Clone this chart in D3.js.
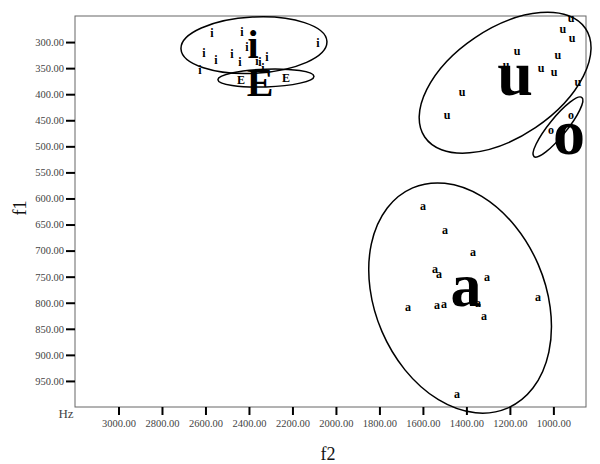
<!DOCTYPE html>
<html><head><meta charset="utf-8">
<script src="https://cdn.jsdelivr.net/npm/d3@7"></script>
<style>body{margin:0;background:#fff;} svg{display:block;}</style>
</head><body>
<svg id="chart" width="600" height="464"></svg>
<script>
// ---- data ----
const f2Ticks = [3000, 2800, 2600, 2400, 2200, 2000, 1800, 1600, 1400, 1200, 1000];
const f1Ticks = [300, 350, 400, 450, 500, 550, 600, 650, 700, 750, 800, 850, 900, 950];

// tokens: [f2, f1]
const tokensI = [[2570,283],[2432,281],[2607,321],[2552,334],[2478,323],[2441,338],[2409,309],
                 [2363,336],[2350,338],[2317,329],[2625,354],[2083,302],[2336,350]];
const tokensE = [[2437,373],[2230,369]];
const tokensU = [[919,256],[956,277],[914,294],[1167,319],[979,327],[1218,346],[1057,352],
                 [997,359],[887,379],[1420,398],[1489,442]];
const tokensO = [[919,442],[1011,472]];
const tokensA = [[1600,616],[1498,662],[1370,706],[1544,737],[1526,747],[1305,753],[1669,810],
                 [1535,806],[1503,804],[1347,802],[1319,827],[1071,791],[1443,977]];

// group means
const meanLabels = ['i', 'E', 'u', 'o', 'a'];
const meanF2 = [2381, 2349, 1176, 928, 1402];
const meanF1 = [304, 378, 373, 486, 779];

// ellipses (centre, radius along f2 and f1, rotation in degrees)
const ellLabels = ['i', 'E', 'u', 'o', 'a'];
const ellF2 = [2377, 2322, 1222, 979, 1429];
const ellF1 = [306, 369, 378, 463, 791];
const ellRF2 = [336, 221, 446, 175, 391];
const ellRF1 = [54, 17, 104, 17, 230];
const ellAngle = [-3, -2, -34, -51, -23.3];

// ---- chart ----
const svg = d3.select('#chart');
const L = 75, T = 16, R = 586, B = 407;
const x = d3.scaleLinear().domain([3200, 850]).range([L, R]);
const y = d3.scaleLinear().domain([250, 1000]).range([T, B]);
const serif = '"Liberation Serif", "DejaVu Serif", serif';

// frame
svg.append('rect').attr('x', L).attr('y', T).attr('width', R - L).attr('height', B - T)
  .attr('fill', 'none').attr('stroke', '#666').attr('stroke-width', 1);

const fmt = d3.format('.2f');
const yAxis = svg.append('g').attr('transform', `translate(${L},0)`)
  .call(d3.axisLeft(y).tickValues(f1Ticks).tickFormat(fmt).tickSize(9).tickPadding(2));
const xAxis = svg.append('g').attr('transform', `translate(0,${B})`)
  .call(d3.axisBottom(x).tickValues(f2Ticks).tickFormat(fmt).tickSize(8).tickPadding(5));
[yAxis, xAxis].forEach(g => {
  g.select('.domain').remove();
  g.selectAll('.tick line').attr('stroke', '#000').attr('stroke-width', 2);
  g.selectAll('.tick text').attr('fill', '#444').style('font-family', serif).style('font-size', '10.5px');
});

// axis titles
svg.append('text').attr('x', 66).attr('y', 418).attr('text-anchor', 'middle')
  .style('font-family', serif).style('font-size', '13px').attr('fill', '#444').text('Hz');
svg.append('text').attr('x', 328).attr('y', 460).attr('text-anchor', 'middle')
  .style('font-family', serif).style('font-size', '18px').attr('fill', '#111').text('f2');
svg.append('text').attr('transform', 'translate(26,208) rotate(-90)').attr('text-anchor', 'middle')
  .style('font-family', serif).style('font-size', '18px').attr('fill', '#111').text('f1');

// ellipses
svg.append('g').selectAll('ellipse').data(ellLabels).join('ellipse')
  .attr('cx', (d, i) => x(ellF2[i]))
  .attr('cy', (d, i) => y(ellF1[i]))
  .attr('rx', (d, i) => Math.abs(x(ellF2[i] - ellRF2[i]) - x(ellF2[i])))
  .attr('ry', (d, i) => Math.abs(y(ellF1[i] + ellRF1[i]) - y(ellF1[i])))
  .attr('transform', (d, i) => `rotate(${ellAngle[i]} ${x(ellF2[i])} ${y(ellF1[i])})`)
  .attr('fill', 'none').attr('stroke', '#000').attr('stroke-width', 1.5);

// baseline offset (fraction of font size) so the glyph's visual centre sits on the point
const baseOff = {i: 0.345, E: 0.33, u: 0.23, o: 0.23, a: 0.23};
const bigSize = {i: 40, E: 40, u: 64, o: 64, a: 62};
const smallSize = 12;

const tokenSets = [['i', tokensI], ['E', tokensE], ['u', tokensU], ['o', tokensO], ['a', tokensA]];
const gTok = svg.append('g');
tokenSets.forEach(([lab, pts]) => {
  gTok.selectAll(null).data(pts).join('text')
    .attr('x', d => x(d[0]))
    .attr('y', d => y(d[1]) + baseOff[lab] * smallSize)
    .attr('text-anchor', 'middle')
    .style('font-family', serif).style('font-size', smallSize + 'px').style('font-weight', 'bold')
    .attr('fill', '#000').text(lab);
});

svg.append('g').selectAll('text').data(meanLabels).join('text')
  .attr('x', (d, i) => x(meanF2[i]))
  .attr('y', (d, i) => y(meanF1[i]) + baseOff[d] * bigSize[d])
  .attr('text-anchor', 'middle')
  .style('font-family', serif).style('font-size', d => bigSize[d] + 'px').style('font-weight', 'bold')
  .attr('fill', '#000').text(d => d);
</script>
</body></html>
